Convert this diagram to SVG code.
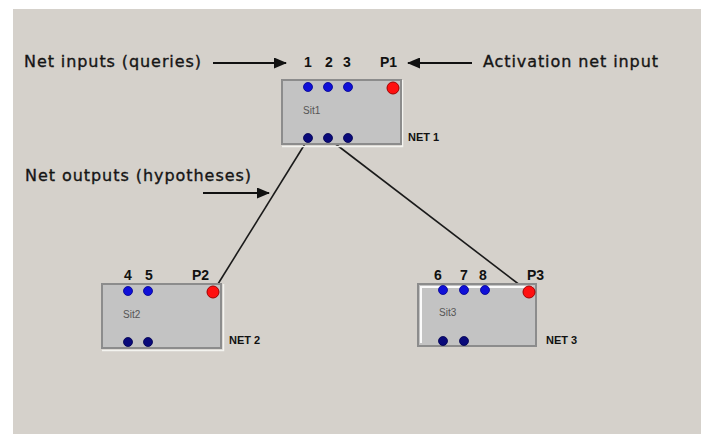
<svg xmlns="http://www.w3.org/2000/svg" width="705" height="434" viewBox="0 0 705 434">
<defs>
<marker id="ah" viewBox="0 0 13 11" refX="12" refY="5.5" markerWidth="13" markerHeight="11" markerUnits="userSpaceOnUse" orient="auto">
<path d="M0,0 L13,5.5 L0,11 z" fill="#111"/>
</marker>
</defs>
<style>
.lbl{font-family:"DejaVu Sans",Verdana,sans-serif;font-size:16px;fill:#151515;stroke:#151515;stroke-width:0.35}
.num{font-family:"Liberation Sans",Arial,sans-serif;font-size:14px;font-weight:bold;fill:#111}
.net{font-family:"Liberation Sans",Arial,sans-serif;font-size:11px;font-weight:bold;fill:#111}
.sit{font-family:"Liberation Sans",Arial,sans-serif;font-size:10px;fill:#555}
.box{fill:#c3c3c3;stroke:#8c8c8c;stroke-width:2}
.hl{fill:none;stroke:#f4f4f0;stroke-width:1.5}
.in{fill:#1010d8;stroke:#000090;stroke-width:0.8}
.out{fill:#0a0a7a;stroke:#000050;stroke-width:0.8}
.act{fill:#ff1010;stroke:#a00000;stroke-width:1}
.arr{stroke:#111;stroke-width:2;fill:none;marker-end:url(#ah)}
.con{stroke:#1a1a1a;stroke-width:1.6;fill:none}
</style>
<rect x="0" y="0" width="705" height="434" fill="#ffffff"/>
<rect x="13" y="9" width="688" height="425" fill="#d5d1cb"/>

<g id="connectors">
<line class="con" x1="308" y1="139" x2="213" y2="292"/>
<line class="con" x1="329" y1="139" x2="529" y2="292"/>
</g>

<g id="annotations">
<text class="lbl" x="24" y="67" textLength="177" lengthAdjust="spacing">Net inputs (queries)</text>
<line class="arr" x1="213" y1="63" x2="286" y2="63"/>
<text class="lbl" x="25" y="181" textLength="226" lengthAdjust="spacing">Net outputs (hypotheses)</text>
<line class="arr" x1="203" y1="193" x2="269" y2="193"/>
<line class="arr" x1="472" y1="63" x2="408" y2="63"/>
<text class="lbl" x="483" y="67" textLength="175" lengthAdjust="spacing">Activation net input</text>
</g>

<g id="net1">
<path class="hl" d="M282,146.5 H402.5 V80"/>
<rect class="box" x="282" y="80" width="119" height="64"/>
<circle class="in" cx="308" cy="87" r="4.5"/>
<circle class="in" cx="328" cy="87" r="4.5"/>
<circle class="in" cx="348" cy="87" r="4.5"/>
<circle class="act" cx="393" cy="88" r="6"/>
<circle class="out" cx="308" cy="138" r="4.5"/>
<circle class="out" cx="328" cy="138" r="4.5"/>
<circle class="out" cx="348" cy="138" r="4.5"/>
<text class="sit" x="303" y="114">Sit1</text>
<text class="num" x="308" y="67" text-anchor="middle">1</text>
<text class="num" x="329" y="67" text-anchor="middle">2</text>
<text class="num" x="347" y="67" text-anchor="middle">3</text>
<text class="num" x="380" y="67">P1</text>
<text class="net" x="408" y="141">NET 1</text>
</g>

<g id="net2">
<path class="hl" d="M102,350.5 H223.5 V284"/>
<rect class="box" x="102" y="284" width="119" height="64"/>
<circle class="in" cx="128" cy="291" r="4.5"/>
<circle class="in" cx="148" cy="291" r="4.5"/>
<circle class="act" cx="213" cy="292" r="6"/>
<circle class="out" cx="128" cy="342" r="4.5"/>
<circle class="out" cx="148" cy="342" r="4.5"/>
<text class="sit" x="123" y="318">Sit2</text>
<text class="num" x="128" y="280" text-anchor="middle">4</text>
<text class="num" x="149" y="280" text-anchor="middle">5</text>
<text class="num" x="192" y="280">P2</text>
<text class="net" x="229" y="344">NET 2</text>
</g>

<g id="net3">
<rect class="box" x="418" y="284" width="118" height="62"/>
<path fill="none" stroke="#fafafa" stroke-width="2" d="M421,343 V287 H533"/>
<circle class="in" cx="443" cy="290" r="4.5"/>
<circle class="in" cx="464" cy="290" r="4.5"/>
<circle class="in" cx="485" cy="290" r="4.5"/>
<circle class="act" cx="529" cy="292" r="6"/>
<circle class="out" cx="443" cy="341" r="4.5"/>
<circle class="out" cx="464" cy="341" r="4.5"/>
<text class="sit" x="439" y="316">Sit3</text>
<text class="num" x="438" y="280" text-anchor="middle">6</text>
<text class="num" x="464" y="280" text-anchor="middle">7</text>
<text class="num" x="483" y="280" text-anchor="middle">8</text>
<text class="num" x="527" y="280">P3</text>
<text class="net" x="546" y="344">NET 3</text>
</g>
</svg>
